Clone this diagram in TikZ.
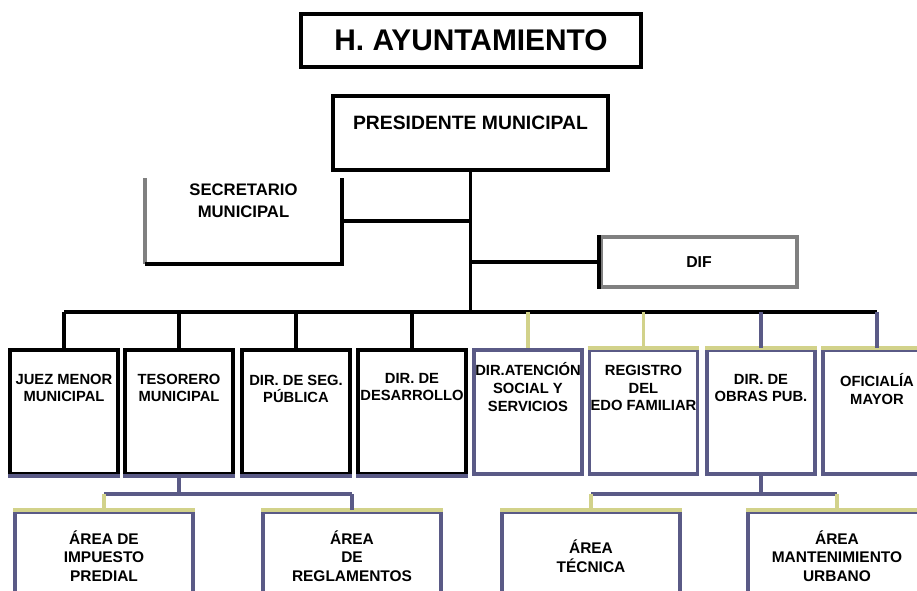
\documentclass[tikz,border=0pt]{standalone}
\usepackage{fontspec}
\setmainfont{Liberation Sans}
\usetikzlibrary{positioning}

\definecolor{slate}{HTML}{5A5A86}
\definecolor{olive}{HTML}{D2D28A}

\begin{document}
\begin{tikzpicture}[x=0.02cm, y=-0.02cm, line width=2.2pt,
    every node/.style={align=center, inner sep=0pt}]
        \tikzset{rowbox/.style={draw=black, minimum width=2.16cm, minimum height=2.48cm}}
        \tikzset{areabox/.style={draw=slate, minimum width=3.56cm, minimum height=1.76cm,
            font=\bfseries\fontsize{8.8}{10.5}\selectfont}}
        \tikzset{rowtext/.style={font=\bfseries\fontsize{8.4}{10}\selectfont}}
        \useasboundingbox (0,0) rectangle (917,591);
        \clip (0,0) rectangle (917,591);
        % top level
        \node[draw, minimum width=6.8cm, minimum height=1.06cm,
            font=\bfseries\fontsize{17}{20}\selectfont] (ayunt) at (471,40.5) {H. AYUNTAMIENTO};
        \node[draw, minimum width=5.5cm, minimum height=1.48cm] (pres) at (470.5,133) {};
        \node[font=\bfseries\fontsize{11}{13}\selectfont] (presT) at ([yshift=-0.58cm]pres.north) {PRESIDENTE MUNICIPAL};
        \node[minimum width=3.86cm, minimum height=1.64cm] (secr) at (243.5,221) {};
        \node[font=\bfseries\fontsize{9.5}{12.5}\selectfont] (secrT) at ([yshift=0.4cm]secr.center) {SECRETARIO\\MUNICIPAL};
        \node[draw=gray, minimum width=3.92cm, minimum height=1.0cm,
            font=\bfseries\fontsize{9}{11}\selectfont] (dif) at (699,262) {DIF};
        \draw[gray] (secr.north west) -- (secr.south west);
        \draw (secr.south west) -- (secr.south east) -- (secr.north east);
        \draw (dif.north west) -- (dif.south west);
        % second level
        \node[rowbox] (juez) at (64,412) {};
        \node[rowbox] (teso) at (179,412) {};
        \node[rowbox] (segp) at (296,412) {};
        \node[rowbox] (desa) at (412,412) {};
        \node[rowbox, draw=slate] (atsoc) at (528,412) {};
        \node[rowbox, draw=slate] (regis) at (643.5,412) {};
        \node[rowbox, draw=slate] (obras) at (761,412) {};
        \node[rowbox, draw=slate] (ofic) at (877,412) {};
        \node[rowtext] (juezT) at ([yshift=-0.8cm]juez.north) {JUEZ MENOR\\MUNICIPAL};
        \node[rowtext] (tesoT) at ([yshift=-0.8cm]teso.north) {TESORERO\\MUNICIPAL};
        \node[rowtext] (segpT) at ([yshift=-0.82cm]segp.north) {DIR. DE SEG.\\PÚBLICA};
        \node[rowtext] (desaT) at ([yshift=-0.78cm]desa.north) {DIR. DE\\DESARROLLO};
        \node[rowtext] (atsocT) at ([yshift=-0.78cm]atsoc.north) {DIR.ATENCIÓN\\SOCIAL Y\\SERVICIOS};
        \node[rowtext] (regisT) at ([yshift=-0.8cm]regis.north) {REGISTRO\\DEL\\EDO FAMILIAR};
        \node[rowtext] (obrasT) at ([yshift=-0.8cm]obras.north) {DIR. DE\\OBRAS PUB.};
        \node[rowtext] (oficT) at ([yshift=-0.82cm]ofic.north) {OFICIALÍA\\MAYOR};
        \foreach \n in {juez,teso,segp,desa}
            \draw[slate] (\n.south west) -- (\n.south east);
        \foreach \n in {regis,obras,ofic}
            \draw[olive] (\n.north west) -- (\n.north east);
        % third level
        \node[areabox] (predial) at (104,556) {ÁREA DE\\IMPUESTO\\PREDIAL};
        \node[areabox] (regla) at (352,556) {ÁREA\\DE\\REGLAMENTOS};
        \node[areabox] (tecn) at (591,556) {ÁREA\\TÉCNICA};
        \node[areabox] (mant) at (837,556) {ÁREA\\MANTENIMIENTO\\URBANO};
        \foreach \n in {predial,regla,tecn,mant}
            \draw[olive] (\n.north west) -- (\n.north east);
        % connectors
        \coordinate (bus) at (64,312);
        \coordinate (subbus) at (104,494);
        \draw (pres.south) -- (pres.south |- bus);
        \draw (pres.south |- secr.east) -- (secr.east);
        \draw (pres.south |- dif.west) -- (dif.west);
        \draw (juez.north |- bus) -- (ofic.north |- bus);
        \foreach \n in {juez,teso,segp,desa}
            \draw (\n.north |- bus) -- (\n.north);
        \foreach \n in {atsoc,regis}
            \draw[olive] (\n.north |- bus) -- (\n.north);
        \foreach \n in {obras,ofic}
            \draw[slate] (\n.north |- bus) -- (\n.north);
        \draw[slate] (teso.south) -- (teso.south |- subbus);
        \draw[slate] (predial.north |- subbus) -- (regla.north |- subbus);
        \draw[olive] (predial.north |- subbus) -- (predial.north);
        \draw[slate] (regla.north |- subbus) -- (regla.north);
        \draw[slate] (obras.south) -- (obras.south |- subbus);
        \draw[slate] (tecn.north |- subbus) -- (mant.north |- subbus);
        \draw[olive] (tecn.north |- subbus) -- (tecn.north);
        \draw[olive] (mant.north |- subbus) -- (mant.north);
\end{tikzpicture}
\end{document}
